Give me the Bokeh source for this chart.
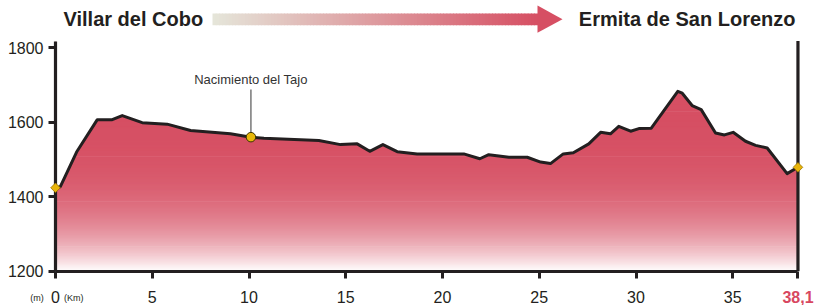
import numpy as np
from bokeh.plotting import figure
from bokeh.models import Range1d, FixedTicker, Label
from bokeh.embed import file_html
from bokeh.resources import INLINE

# ---------------- data ----------------
km = [0.0, 0.25, 1.09, 2.16, 2.93, 3.45, 4.48, 5.77, 6.98, 9.04, 10.1, 10.77,
      13.61, 14.73, 15.59, 16.24, 16.92, 17.66, 18.69, 21.10, 21.93, 22.39,
      23.43, 24.38, 25.07, 25.58, 26.24, 26.76, 27.56, 28.17, 28.68, 29.11,
      29.72, 30.15, 30.79, 32.16, 32.39, 32.90, 33.37, 34.11, 34.57, 35.02,
      35.66, 36.18, 36.78, 37.81, 38.37]
elev = [1424, 1427, 1520, 1607, 1607, 1618, 1599, 1595, 1578, 1569, 1560, 1557,
        1551, 1540, 1542, 1522, 1540, 1521, 1515, 1515, 1502, 1513,
        1506, 1506, 1493, 1489, 1515, 1518, 1542, 1573, 1569, 1589,
        1576, 1583, 1584, 1683, 1678, 1645, 1634, 1571, 1566, 1573,
        1549, 1538, 1531, 1462, 1479]
x_ticks = [0, 5, 10, 15, 20, 25, 30, 35]
y_ticks = [1200, 1400, 1600, 1800]
start_name = "Villar del Cobo"
end_name = "Ermita de San Lorenzo"
spring_name = "Nacimiento del Tajo"
spring_km = 10.1
spring_elev = 1560
total_label = "38,1"
unit_y = "(m)"
unit_x = "(Km)"

# ---------------- layout (page pixels) ----------------
W, H = 815, 305
X0_PX = 55.0          # pixel of km 0
PX_PER_KM = 19.35
Y1800_PX = 47.3       # pixel of 1800 m
M_PER_PX = 600.0 / 223.4
X_START = -X0_PX / PX_PER_KM
X_END = (W - X0_PX) / PX_PER_KM
Y_END = 1800 + Y1800_PX * M_PER_PX
Y_START = 1800 - (H - Y1800_PX) * M_PER_PX
Y0 = 1200
AX_TOP = 1818

def m_at(py):
    return 1800 - (py - Y1800_PX) * M_PER_PX

DARK = "#231f20"
RED = np.array([214, 79, 99])
WHITE = np.array([255, 255, 255])

def hexc(c):
    c = np.clip(np.round(c), 0, 255).astype(int)
    return "#%02x%02x%02x" % tuple(c)

p = figure(width=W, height=H, x_range=Range1d(X_START, X_END),
           y_range=Range1d(Y_START, Y_END),
           output_backend="svg", toolbar_location=None,
           min_border=0, min_border_left=0, min_border_right=0,
           min_border_top=0, min_border_bottom=0, outline_line_color=None,
           background_fill_color="white", border_fill_color="white")
p.grid.visible = False
p.extra_x_ranges = {"px": Range1d(0, W)}
p.extra_y_ranges = {"px": Range1d(H, 0)}

# gradient fill below the profile (bands + white mask above the profile)
g_top = 1690
n = 150
edges = np.linspace(Y0, g_top, n + 1)
mids = (edges[:-1] + edges[1:]) / 2
t = (mids - Y0) / (g_top - Y0)
f = 1 - (1 - t) ** 3.8
cols = [hexc(WHITE * (1 - fi) + RED * fi) for fi in f]
step = edges[1] - edges[0]
p.quad(left=0, right=km[-1], bottom=edges[:-1], top=edges[1:] + step * 0.6,
       fill_color=cols, line_color=None)
p.quad(left=0, right=km[-1], bottom=g_top, top=AX_TOP, fill_color=hexc(RED), line_color=None)
p.varea(x=km, y1=elev, y2=Y_END, fill_color="white")

p.line(km, elev, line_width=3, line_color=DARK, line_join="round")

# right end vertical line
p.segment(x0=[km[-1]], y0=[Y0], x1=[km[-1]], y1=[AX_TOP], line_width=3.2, line_color=DARK)

# spring marker + leader
p.segment(x0=[spring_km], y0=[spring_elev], x1=[spring_km], y1=[m_at(89)],
          line_width=1.2, line_color="#555555")
p.scatter([spring_km], [spring_elev], marker="circle", size=9.5,
          fill_color="#e8b80a", line_color="#3a3300", line_width=1)
p.add_layout(Label(x=spring_km, y=79, y_range_name="px", text=spring_name,
                   text_font="Liberation Sans", text_font_size="13px",
                   text_color="#333333", text_align="center", text_baseline="middle"))

# start/end diamonds (drawn above the axes)
dia = p.scatter([km[0], km[-1]], [elev[0], elev[-1]], marker="square", angle=np.pi / 4,
                size=6.8, fill_color="#e8b40a", line_color="#9a7500", line_width=0.8)
dia.level = "overlay"

# arrow (gradient)
na = 100
ax0, ax1 = 212, 537
xe = np.linspace(ax0, ax1, na + 1)
ta = (xe[:-1] + xe[1:]) / 2
ta = (ta - ax0) / (ax1 - ax0)
c_left = np.array([229, 230, 218])
acols = [hexc(c_left * (1 - v) + RED * v) for v in ta]
p.quad(left=xe[:-1], right=xe[1:] + 0.8, top=13, bottom=24.7, fill_color=acols,
       line_color=None, x_range_name="px", y_range_name="px")
p.patch([ax1, ax1, 562], [5, 32.3, 18.7], fill_color=hexc(RED), line_color=None,
        x_range_name="px", y_range_name="px")

p.add_layout(Label(x=63, y=18.3, x_range_name="px", y_range_name="px", text=start_name,
                   text_font="Liberation Sans", text_font_style="bold", text_font_size="20px",
                   text_color=DARK, text_align="left", text_baseline="middle"))
p.add_layout(Label(x=795, y=18.3, x_range_name="px", y_range_name="px", text=end_name,
                   text_font="Liberation Sans", text_font_style="bold", text_font_size="20px",
                   text_color=DARK, text_align="right", text_baseline="middle"))

# axes (crossing at km 0 / 1200 m)
ya = p.yaxis[0]
ya.ticker = FixedTicker(ticks=y_ticks)
ya.bounds = (Y0, AX_TOP)
ya.fixed_location = 0
xa = p.xaxis[0]
xa.ticker = FixedTicker(ticks=x_ticks + [km[-1]])
xa.bounds = (0, km[-1])
xa.fixed_location = Y0
xa.major_label_overrides = {km[-1]: ""}
for ax in (xa, ya):
    ax.axis_line_width = 3.2
    ax.axis_line_color = DARK
    ax.major_tick_line_width = 3
    ax.major_tick_line_color = DARK
    ax.major_tick_in = 0
    ax.major_tick_out = 7
    ax.minor_tick_line_color = None
    ax.major_label_text_font = "Liberation Sans"
    ax.major_label_text_font_size = "16px"
    ax.major_label_text_color = DARK
ya.major_label_standoff = 5
xa.major_label_standoff = 13

p.add_layout(Label(x=km[-1], y=296, y_range_name="px", text=total_label,
                   text_font="Liberation Sans", text_font_style="bold", text_font_size="16px",
                   text_color="#d8475f", text_align="center", text_baseline="middle"))
p.add_layout(Label(x=43.3, y=297, x_range_name="px", y_range_name="px", text=unit_y,
                   text_font="Liberation Sans", text_font_size="9px",
                   text_color=DARK, text_align="right", text_baseline="middle"))
p.add_layout(Label(x=63.5, y=297, x_range_name="px", y_range_name="px", text=unit_x,
                   text_font="Liberation Sans", text_font_size="9px",
                   text_color=DARK, text_align="left", text_baseline="middle"))

open("out.html", "w").write(file_html(p, INLINE))
